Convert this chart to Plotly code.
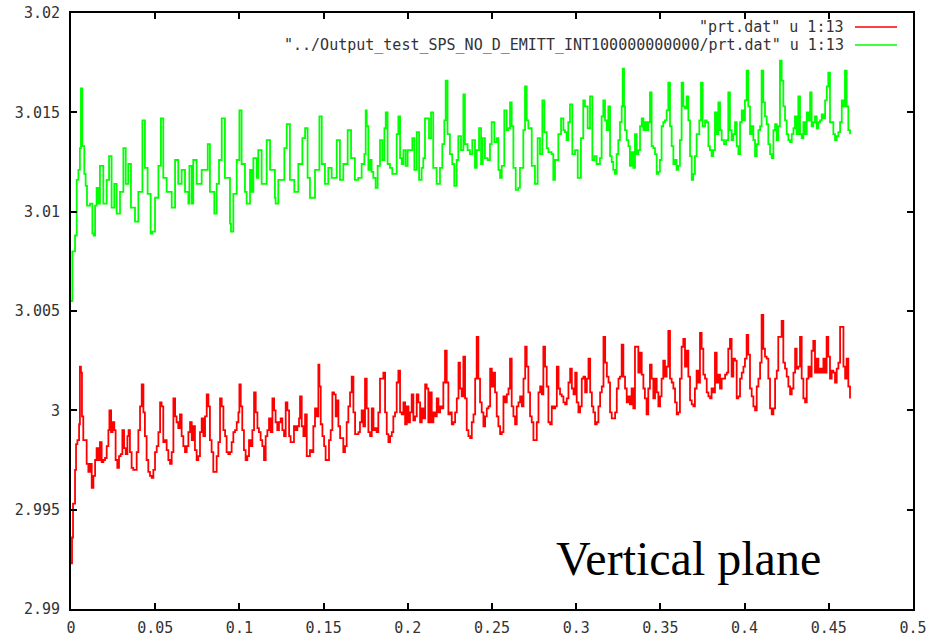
import plotly.graph_objects as go

# ---- tick marks and labels -------------------------------------------------
x_ticks = [0, 0.05, 0.1, 0.15, 0.2, 0.25, 0.3, 0.35, 0.4, 0.45, 0.5]
x_tick_text = ["0", "0.05", "0.1", "0.15", "0.2", "0.25", "0.3", "0.35", "0.4", "0.45", "0.5"]
y_ticks = [2.99, 2.995, 3.0, 3.005, 3.01, 3.015, 3.02]
y_tick_text = ["2.99", "2.995", "3", "3.005", "3.01", "3.015", "3.02"]

series_names = [
    '"prt.dat" u 1:13',
    '"../Output_test_SPS_NO_D_EMITT_INT100000000000/prt.dat" u 1:13',
]
series_colors = ["#ff0000", "#00ff00"]
caption = "Vertical plane"

# ---- prt.dat, column 1 vs column 13 ----------------------------------------
t_red = [
    0.0000, 0.0006, 0.0012, 0.0024, 0.0030, 0.0038, 0.0048, 0.0053, 0.0059, 0.0065,
    0.0073, 0.0083, 0.0093, 0.0103, 0.0113, 0.0123, 0.0133, 0.0143, 0.0152, 0.0162,
    0.0172, 0.0182, 0.0192, 0.0202, 0.0212, 0.0222, 0.0228, 0.0238, 0.0247, 0.0257,
    0.0265, 0.0275, 0.0285, 0.0295, 0.0305, 0.0315, 0.0325, 0.0335, 0.0342, 0.0350,
    0.0360, 0.0370, 0.0380, 0.0390, 0.0400, 0.0410, 0.0420, 0.0430, 0.0439, 0.0449,
    0.0459, 0.0469, 0.0479, 0.0489, 0.0499, 0.0509, 0.0519, 0.0529, 0.0538, 0.0548,
    0.0558, 0.0568, 0.0578, 0.0588, 0.0598, 0.0608, 0.0618, 0.0627, 0.0637, 0.0647,
    0.0657, 0.0667, 0.0677, 0.0687, 0.0697, 0.0707, 0.0717, 0.0726, 0.0736, 0.0746,
    0.0756, 0.0766, 0.0776, 0.0786, 0.0796, 0.0806, 0.0816, 0.0825, 0.0835, 0.0845,
    0.0855, 0.0865, 0.0875, 0.0885, 0.0895, 0.0905, 0.0915, 0.0924, 0.0934, 0.0944,
    0.0954, 0.0964, 0.0974, 0.0984, 0.0994, 0.1000, 0.1008, 0.1017, 0.1027, 0.1037,
    0.1047, 0.1057, 0.1067, 0.1077, 0.1087, 0.1097, 0.1107, 0.1116, 0.1126, 0.1136,
    0.1146, 0.1156, 0.1166, 0.1176, 0.1186, 0.1196, 0.1206, 0.1215, 0.1225, 0.1235,
    0.1245, 0.1255, 0.1265, 0.1275, 0.1285, 0.1295, 0.1304, 0.1314, 0.1324, 0.1334,
    0.1344, 0.1354,
    0.1360, 0.1370, 0.1380, 0.1390, 0.1400, 0.1410, 0.1419, 0.1429, 0.1439, 0.1449,
    0.1459, 0.1469, 0.1475, 0.1483, 0.1493, 0.1503, 0.1512, 0.1522, 0.1532, 0.1542,
    0.1552, 0.1562, 0.1572, 0.1578, 0.1588, 0.1598, 0.1608, 0.1617, 0.1627, 0.1637,
    0.1647, 0.1657, 0.1667, 0.1677, 0.1687, 0.1697, 0.1707, 0.1716, 0.1726, 0.1736,
    0.1746, 0.1756, 0.1766, 0.1776, 0.1786, 0.1796, 0.1806, 0.1815, 0.1825, 0.1835,
    0.1845, 0.1855, 0.1865, 0.1875, 0.1885, 0.1895, 0.1905, 0.1914, 0.1924, 0.1934,
    0.1944, 0.1954, 0.1964, 0.1974, 0.1984, 0.1994, 0.2004, 0.2013, 0.2023, 0.2033,
    0.2043, 0.2053, 0.2063, 0.2073, 0.2083, 0.2093, 0.2103, 0.2112, 0.2122, 0.2132,
    0.2142, 0.2152, 0.2162, 0.2172, 0.2182, 0.2192, 0.2202, 0.2211, 0.2221, 0.2231,
    0.2241, 0.2251, 0.2261, 0.2271, 0.2281, 0.2291, 0.2301, 0.2310, 0.2320, 0.2330,
    0.2340, 0.2350, 0.2360, 0.2370, 0.2380, 0.2390, 0.2400, 0.2409, 0.2419, 0.2429,
    0.2439, 0.2449, 0.2459, 0.2469, 0.2479, 0.2489, 0.2499, 0.2508, 0.2518, 0.2528,
    0.2538, 0.2548, 0.2558, 0.2568, 0.2578, 0.2588, 0.2598, 0.2607, 0.2617, 0.2627,
    0.2637, 0.2647, 0.2657, 0.2667, 0.2677, 0.2687, 0.2697, 0.2706, 0.2716, 0.2726,
    0.2736, 0.2746, 0.2756, 0.2766, 0.2776, 0.2786, 0.2796, 0.2805, 0.2815, 0.2825,
    0.2835, 0.2845, 0.2855, 0.2865, 0.2875, 0.2885, 0.2895, 0.2904, 0.2914, 0.2924,
    0.2934, 0.2944, 0.2954, 0.2964, 0.2974, 0.2984, 0.2994, 0.3003, 0.3013, 0.3023,
    0.3033, 0.3043, 0.3053, 0.3063, 0.3073, 0.3083, 0.3093, 0.3102, 0.3112, 0.3122,
    0.3132, 0.3142, 0.3152, 0.3162, 0.3172, 0.3182, 0.3192, 0.3201, 0.3211, 0.3221,
    0.3231, 0.3241, 0.3251,
    0.3260, 0.3270, 0.3280, 0.3290, 0.3300, 0.3309, 0.3319, 0.3329, 0.3339, 0.3349,
    0.3359, 0.3369, 0.3379, 0.3389, 0.3399, 0.3408, 0.3418, 0.3428, 0.3438, 0.3448,
    0.3458, 0.3468, 0.3478, 0.3488, 0.3498, 0.3507, 0.3517, 0.3527, 0.3537, 0.3547,
    0.3557, 0.3567, 0.3577, 0.3587, 0.3597, 0.3606, 0.3616, 0.3626, 0.3636, 0.3646,
    0.3656, 0.3666, 0.3676, 0.3686, 0.3696, 0.3705, 0.3715, 0.3725, 0.3735, 0.3745,
    0.3755, 0.3765, 0.3775, 0.3785, 0.3795, 0.3804, 0.3814, 0.3824, 0.3834, 0.3844,
    0.3854, 0.3864, 0.3874, 0.3884, 0.3894, 0.3903, 0.3913, 0.3923, 0.3933, 0.3943,
    0.3953, 0.3963, 0.3973, 0.3983, 0.3993, 0.4002, 0.4012, 0.4022, 0.4032, 0.4042,
    0.4052, 0.4062, 0.4072, 0.4082, 0.4092, 0.4101, 0.4111, 0.4121, 0.4131, 0.4141,
    0.4151, 0.4161, 0.4171, 0.4181, 0.4191, 0.4200, 0.4210, 0.4220, 0.4230, 0.4240,
    0.4250, 0.4260, 0.4270, 0.4280, 0.4290, 0.4300, 0.4309, 0.4319, 0.4329, 0.4339,
    0.4349, 0.4359, 0.4369, 0.4379, 0.4389, 0.4398, 0.4408, 0.4418, 0.4428, 0.4438,
    0.4448, 0.4458, 0.4468, 0.4477, 0.4487, 0.4497, 0.4507, 0.4517, 0.4527, 0.4537,
    0.4547, 0.4557, 0.4567, 0.4577, 0.4587, 0.4597, 0.4606, 0.4616, 0.4626,
]
y_red = [
    2.9923, 2.9936, 2.9953, 2.9970, 2.9983, 2.9985, 2.9993, 3.0022, 3.0019, 2.9997,
    2.9985, 2.9985, 2.9973, 2.9969, 2.9973, 2.9961, 2.9967, 2.9975, 2.9981, 2.9975,
    2.9984, 2.9974, 2.9975, 2.9976, 2.9982, 2.9990, 3.0000, 2.9989, 2.9994, 2.9990,
    2.9975, 2.9971, 2.9977, 2.9978, 2.9990, 2.9981, 2.9978, 2.9987, 2.9990, 2.9979,
    2.9971, 2.9970, 2.9970, 2.9979, 2.9990, 3.0002, 3.0013, 2.9999, 2.9987, 2.9975,
    2.9969, 2.9967, 2.9966, 2.9970, 2.9979, 2.9982, 2.9989, 3.0004, 3.0002, 2.9984,
    2.9985, 2.9980, 2.9975, 2.9973, 2.9979, 3.0006, 2.9997, 2.9994, 2.9991, 2.9998,
    2.9987, 2.9982, 2.9979, 2.9982, 2.9989, 2.9994, 2.9985, 2.9992, 2.9980, 2.9975,
    2.9977, 2.9989, 2.9996, 2.9987, 2.9997, 3.0008, 3.0002, 2.9985, 2.9979, 2.9969,
    2.9969, 2.9977, 2.9984, 3.0006, 3.0002, 2.9990, 2.9987, 2.9979, 2.9978, 2.9979,
    2.9984, 2.9989, 2.9990, 2.9994, 2.9999, 3.0013, 3.0002, 2.9990, 2.9980, 2.9975,
    2.9977, 2.9985, 2.9982, 2.9990, 3.0009, 2.9999, 2.9991, 2.9989, 2.9985, 2.9982,
    2.9975, 2.9987, 2.9990, 2.9996, 2.9989, 3.0006, 3.0000, 2.9994, 2.9990, 2.9994,
    2.9996, 2.9990, 2.9987, 3.0004, 3.0000, 2.9987, 2.9984, 2.9984, 2.9992, 2.9990,
    2.9992, 2.9996,
    3.0007, 2.9992, 2.9987, 2.9998, 2.9977, 2.9977, 2.9980, 2.9979, 2.9992, 3.0001,
    2.9997, 3.0023, 3.0012, 2.9993, 2.9987, 2.9982, 2.9975, 2.9975, 2.9985, 2.9990,
    3.0009, 3.0008, 2.9997, 3.0005, 2.9992, 2.9986, 2.9986, 2.9979, 2.9982, 2.9994,
    3.0002, 3.0009, 3.0017, 2.9999, 2.9988, 2.9988, 2.9989, 2.9994, 3.0000, 2.9992,
    3.0016, 3.0001, 2.9989, 2.9987, 3.0001, 2.9990, 2.9991, 2.9989, 2.9999, 3.0016,
    3.0016, 3.0019, 2.9999, 2.9988, 2.9984, 2.9987, 2.9989, 2.9997, 2.9999, 3.0014,
    3.0020, 2.9999, 2.9998, 3.0004, 2.9993, 3.0002, 2.9994, 2.9999, 3.0008, 2.9995,
    2.9997, 3.0008, 3.0004, 2.9994, 3.0001, 2.9996, 3.0013, 3.0011, 2.9994, 3.0009,
    2.9994, 2.9999, 2.9997, 3.0006, 2.9999, 3.0002, 3.0001, 3.0014, 3.0030, 3.0014,
    2.9998, 2.9999, 2.9993, 2.9994, 2.9999, 3.0006, 3.0024, 3.0011, 3.0007, 3.0027,
    3.0006, 2.9990, 2.9987, 2.9986, 2.9994, 2.9998, 3.0016, 3.0037, 3.0016, 3.0004,
    2.9999, 2.9992, 2.9997, 3.0001, 3.0002, 3.0021, 3.0012, 3.0019, 3.0009, 2.9997,
    2.9992, 2.9988, 2.9989, 3.0007, 3.0004, 3.0008, 3.0011, 3.0026, 3.0002, 2.9997,
    2.9993, 3.0002, 3.0004, 3.0007, 3.0002, 3.0016, 3.0032, 3.0022, 3.0009, 2.9997,
    2.9994, 2.9985, 2.9985, 2.9994, 3.0009, 3.0012, 3.0008, 3.0032, 3.0022, 3.0012,
    2.9994, 2.9993, 3.0002, 3.0001, 3.0002, 3.0022, 3.0011, 3.0008, 3.0007, 3.0004,
    3.0003, 3.0006, 3.0014, 3.0021, 3.0011, 3.0008, 3.0019, 3.0004, 2.9999, 3.0002,
    3.0016, 3.0017, 3.0009, 3.0016, 3.0026, 3.0009, 3.0002, 2.9999, 2.9993, 2.9994,
    3.0002, 3.0009, 3.0012, 3.0037, 3.0024, 3.0017, 3.0014, 2.9999, 2.9996, 2.9996,
    2.9999, 3.0011, 3.0016,
    3.0017, 3.0033, 3.0017, 3.0011, 3.0004, 3.0007, 3.0003, 3.0011, 3.0001, 3.0032,
    3.0032, 3.0019, 3.0029, 3.0018, 3.0011, 3.0006, 2.9998, 3.0011, 3.0023, 3.0016,
    3.0006, 3.0016, 3.0009, 3.0002, 3.0007, 3.0016, 3.0025, 3.0017, 3.0022, 3.0040,
    3.0016, 3.0014, 3.0011, 3.0004, 2.9998, 2.9999, 3.0016, 3.0032, 3.0036, 3.0022,
    3.0030, 3.0017, 3.0005, 3.0003, 3.0002, 3.0011, 3.0020, 3.0014, 3.0039, 3.0031,
    3.0018, 3.0016, 3.0009, 3.0007, 3.0006, 3.0011, 3.0009, 3.0029, 3.0014, 3.0018,
    3.0011, 3.0016, 3.0016, 3.0018, 3.0019, 3.0031, 3.0036, 3.0017, 3.0026, 3.0025,
    3.0006, 3.0007, 3.0016, 3.0019, 3.0022, 3.0026, 3.0038, 3.0028, 3.0011, 3.0007,
    3.0002, 3.0000, 3.0012, 3.0016, 3.0024, 3.0048, 3.0031, 3.0027, 3.0026, 3.0016,
    3.0001, 2.9998, 3.0001, 3.0016, 3.0020, 3.0037, 3.0037, 3.0045, 3.0024, 3.0021,
    3.0017, 3.0012, 3.0008, 3.0011, 3.0019, 3.0031, 3.0021, 3.0022, 3.0037, 3.0016,
    3.0006, 3.0004, 3.0016, 3.0022, 3.0017, 3.0030, 3.0035, 3.0019, 3.0026, 3.0019,
    3.0021, 3.0019, 3.0026, 3.0019, 3.0037, 3.0027, 3.0016, 3.0020, 3.0019, 3.0014,
    3.0021, 3.0024, 3.0042, 3.0042, 3.0022, 3.0016, 3.0026, 3.0012, 3.0006,
]

# ---- ../Output_test_SPS_NO_D_EMITT_INT100000000000/prt.dat ------------------
t_green = [
    0.0000, 0.0008, 0.0024, 0.0034, 0.0044, 0.0053, 0.0059, 0.0067, 0.0079, 0.0087,
    0.0095, 0.0113, 0.0127, 0.0135, 0.0143, 0.0152, 0.0162, 0.0172, 0.0192, 0.0212,
    0.0226, 0.0241, 0.0257, 0.0271, 0.0291, 0.0311, 0.0325, 0.0340, 0.0356, 0.0380,
    0.0400, 0.0424, 0.0439, 0.0455, 0.0473, 0.0483, 0.0499, 0.0519, 0.0534, 0.0548,
    0.0568, 0.0598, 0.0618, 0.0637, 0.0657, 0.0677, 0.0697, 0.0703, 0.0717, 0.0726,
    0.0746, 0.0776, 0.0812, 0.0825, 0.0851, 0.0865, 0.0879, 0.0895, 0.0914, 0.0944,
    0.0950, 0.0964, 0.0984, 0.1000, 0.1013, 0.1033, 0.1043, 0.1063, 0.1073, 0.1083,
    0.1103, 0.1112, 0.1132, 0.1162, 0.1182, 0.1211, 0.1215, 0.1231, 0.1267, 0.1281,
    0.1300, 0.1326, 0.1350, 0.1374, 0.1390, 0.1405, 0.1419, 0.1449, 0.1475, 0.1489,
    0.1508, 0.1528, 0.1548, 0.1578, 0.1597, 0.1617, 0.1643, 0.1663, 0.1686, 0.1706,
    0.1726, 0.1742,
    0.1750, 0.1756, 0.1766, 0.1775, 0.1785, 0.1795, 0.1809, 0.1821, 0.1835, 0.1849,
    0.1861, 0.1869, 0.1880, 0.1894, 0.1908, 0.1924, 0.1934, 0.1944, 0.1954, 0.1964,
    0.1974, 0.1987, 0.1999, 0.2013, 0.2027, 0.2039, 0.2053, 0.2067, 0.2082, 0.2092,
    0.2102, 0.2112, 0.2126, 0.2138, 0.2151, 0.2171, 0.2191, 0.2205, 0.2217, 0.2225,
    0.2236, 0.2250, 0.2264, 0.2276, 0.2290, 0.2300, 0.2316, 0.2330, 0.2339, 0.2355,
    0.2369, 0.2383, 0.2399, 0.2409, 0.2423, 0.2435, 0.2445, 0.2458, 0.2474, 0.2488,
    0.2498, 0.2514, 0.2528, 0.2538, 0.2548, 0.2558, 0.2573, 0.2587, 0.2597, 0.2607,
    0.2617, 0.2627, 0.2641, 0.2656, 0.2666, 0.2686, 0.2696, 0.2706, 0.2716, 0.2736,
    0.2755, 0.2771, 0.2785, 0.2799, 0.2811, 0.2825, 0.2835, 0.2854, 0.2864, 0.2874,
    0.2894, 0.2910, 0.2924, 0.2933, 0.2943, 0.2953, 0.2963, 0.2977, 0.2993, 0.3009,
    0.3028, 0.3042, 0.3052, 0.3068, 0.3082, 0.3096, 0.3108, 0.3121, 0.3141,
    0.3151, 0.3161, 0.3171, 0.3181, 0.3191, 0.3201, 0.3211, 0.3220, 0.3230, 0.3240,
    0.3250, 0.3260, 0.3270, 0.3276, 0.3284, 0.3290, 0.3300, 0.3310, 0.3319, 0.3329,
    0.3339, 0.3349, 0.3359, 0.3369, 0.3379, 0.3389, 0.3399, 0.3409, 0.3418, 0.3428,
    0.3438, 0.3448, 0.3458, 0.3468, 0.3478, 0.3488, 0.3497, 0.3507, 0.3517, 0.3527,
    0.3537, 0.3547, 0.3557, 0.3567, 0.3577, 0.3587, 0.3596, 0.3606, 0.3616, 0.3626,
    0.3636, 0.3646, 0.3656, 0.3666, 0.3676, 0.3686, 0.3695, 0.3705, 0.3715, 0.3731,
    0.3741, 0.3751, 0.3765, 0.3775, 0.3785, 0.3794, 0.3804, 0.3814, 0.3824, 0.3834,
    0.3844, 0.3854, 0.3864, 0.3878, 0.3890, 0.3903, 0.3913, 0.3923, 0.3933, 0.3943,
    0.3953, 0.3963, 0.3973, 0.3983, 0.3993, 0.4002, 0.4012, 0.4022, 0.4032, 0.4042,
    0.4052, 0.4062, 0.4072, 0.4082, 0.4092, 0.4101, 0.4111, 0.4121, 0.4131, 0.4141,
    0.4151, 0.4161, 0.4171, 0.4181, 0.4191, 0.4200, 0.4210, 0.4220, 0.4230, 0.4240,
    0.4250, 0.4260, 0.4270, 0.4280, 0.4290, 0.4299, 0.4309, 0.4319, 0.4329, 0.4339,
    0.4349, 0.4359, 0.4369, 0.4379, 0.4389, 0.4398, 0.4408, 0.4418, 0.4428, 0.4438,
    0.4448, 0.4458, 0.4468, 0.4478, 0.4488, 0.4497, 0.4507, 0.4517, 0.4527, 0.4537,
    0.4547, 0.4557, 0.4567, 0.4577, 0.4587, 0.4596, 0.4606, 0.4616, 0.4626,
]
y_green = [
    3.0055, 3.0080, 3.0088, 3.0116, 3.0121, 3.0132, 3.0162, 3.0133, 3.0119, 3.0113,
    3.0103, 3.0104, 3.0089, 3.0088, 3.0103, 3.0112, 3.0104, 3.0123, 3.0104, 3.0116,
    3.0128, 3.0102, 3.0114, 3.0099, 3.0110, 3.0132, 3.0114, 3.0124, 3.0102, 3.0095,
    3.0110, 3.0146, 3.0122, 3.0109, 3.0089, 3.0090, 3.0107, 3.0123, 3.0147, 3.0117,
    3.0110, 3.0102, 3.0126, 3.0114, 3.0121, 3.0110, 3.0104, 3.0123, 3.0104, 3.0126,
    3.0114, 3.0121, 3.0134, 3.0110, 3.0099, 3.0114, 3.0126, 3.0147, 3.0117, 3.0094,
    3.0090, 3.0109, 3.0126, 3.0151, 3.0124, 3.0110, 3.0104, 3.0121, 3.0110, 3.0127,
    3.0117, 3.0131, 3.0114, 3.0136, 3.0121, 3.0107, 3.0104, 3.0116, 3.0132, 3.0144,
    3.0116, 3.0110, 3.0124, 3.0137, 3.0142, 3.0117, 3.0107, 3.0121, 3.0148, 3.0124,
    3.0114, 3.0122, 3.0117, 3.0136, 3.0116, 3.0124, 3.0141, 3.0127, 3.0116, 3.0117,
    3.0124, 3.0129,
    3.0151, 3.0143, 3.0121, 3.0126, 3.0120, 3.0117, 3.0112, 3.0123, 3.0136, 3.0126,
    3.0142, 3.0150, 3.0124, 3.0122, 3.0119, 3.0119, 3.0139, 3.0148, 3.0127, 3.0124,
    3.0131, 3.0123, 3.0131, 3.0131, 3.0137, 3.0121, 3.0140, 3.0116, 3.0122, 3.0127,
    3.0147, 3.0147, 3.0137, 3.0150, 3.0122, 3.0114, 3.0122, 3.0134, 3.0146, 3.0166,
    3.0139, 3.0129, 3.0124, 3.0113, 3.0126, 3.0138, 3.0131, 3.0159, 3.0134, 3.0131,
    3.0129, 3.0136, 3.0122, 3.0131, 3.0142, 3.0124, 3.0137, 3.0127, 3.0126, 3.0134,
    3.0145, 3.0135, 3.0137, 3.0121, 3.0117, 3.0123, 3.0151, 3.0141, 3.0142, 3.0155,
    3.0143, 3.0122, 3.0111, 3.0112, 3.0122, 3.0141, 3.0163, 3.0146, 3.0142, 3.0123,
    3.0114, 3.0137, 3.0129, 3.0156, 3.0140, 3.0132, 3.0130, 3.0129, 3.0116, 3.0126,
    3.0139, 3.0147, 3.0141, 3.0140, 3.0136, 3.0145, 3.0154, 3.0129, 3.0131, 3.0117,
    3.0137, 3.0156, 3.0153, 3.0142, 3.0158, 3.0126, 3.0128, 3.0124, 3.0127,
    3.0148, 3.0156, 3.0146, 3.0141, 3.0153, 3.0128, 3.0125, 3.0121, 3.0119, 3.0129,
    3.0136, 3.0145, 3.0153, 3.0172, 3.0153, 3.0141, 3.0136, 3.0133, 3.0123, 3.0130,
    3.0122, 3.0139, 3.0129, 3.0131, 3.0143, 3.0147, 3.0141, 3.0145, 3.0141, 3.0145,
    3.0160, 3.0133, 3.0132, 3.0129, 3.0119, 3.0120, 3.0126, 3.0143, 3.0145, 3.0146,
    3.0151, 3.0165, 3.0143, 3.0133, 3.0124, 3.0126, 3.0121, 3.0123, 3.0136, 3.0165,
    3.0153, 3.0152, 3.0158, 3.0146, 3.0128, 3.0116, 3.0119, 3.0128, 3.0139, 3.0146,
    3.0165, 3.0143, 3.0146, 3.0145, 3.0133, 3.0131, 3.0128, 3.0131, 3.0150, 3.0139,
    3.0155, 3.0141, 3.0136, 3.0134, 3.0136, 3.0160, 3.0141, 3.0136, 3.0139, 3.0145,
    3.0133, 3.0129, 3.0145, 3.0151, 3.0146, 3.0156, 3.0171, 3.0153, 3.0139, 3.0143,
    3.0136, 3.0128, 3.0134, 3.0141, 3.0143, 3.0171, 3.0155, 3.0148, 3.0144, 3.0134,
    3.0129, 3.0127, 3.0141, 3.0144, 3.0136, 3.0143, 3.0176, 3.0166, 3.0153, 3.0146,
    3.0139, 3.0136, 3.0135, 3.0139, 3.0142, 3.0148, 3.0139, 3.0158, 3.0139, 3.0137,
    3.0145, 3.0139, 3.0150, 3.0146, 3.0160, 3.0143, 3.0145, 3.0148, 3.0142, 3.0145,
    3.0146, 3.0149, 3.0147, 3.0156, 3.0163, 3.0170, 3.0145, 3.0145, 3.0139, 3.0136,
    3.0138, 3.0140, 3.0145, 3.0156, 3.0153, 3.0171, 3.0153, 3.0141, 3.0139,
]

assert len(t_red) == len(y_red)
assert len(t_green) == len(y_green)

MONO = "DejaVu Sans Mono"
TEXT_GREY = "#333333"

fig = go.Figure()
for t, y, name, color in [
    (t_red, y_red, series_names[0], series_colors[0]),
    (t_green, y_green, series_names[1], series_colors[1]),
]:
    fig.add_trace(go.Scatter(
        x=t, y=y, mode="lines", name=name, showlegend=False,
        line=dict(color=color, width=1.8, shape="hv"),
    ))

# gnuplot-style key: right-aligned text with a line sample to its right
key_rows = [0.9765, 0.9463]
for name, color, ky in zip(series_names, series_colors, key_rows):
    fig.add_annotation(
        xref="paper", yref="paper", x=0.9205, y=ky,
        xanchor="right", yanchor="middle", showarrow=False,
        text=name, font=dict(family=MONO, size=15, color=TEXT_GREY),
    )
    fig.add_shape(
        type="line", xref="paper", yref="paper",
        x0=0.9311, x1=0.9810, y0=ky, y1=ky,
        line=dict(color=color, width=1.5),
    )

fig.add_annotation(
    x=0.2870, y=2.99255, xanchor="left", yanchor="middle", showarrow=False,
    text=caption, font=dict(family="Liberation Serif", size=48, color="#000000"),
)

axis_common = dict(
    showgrid=False, zeroline=False, automargin=False,
    showline=True, linecolor="#000000", linewidth=2, mirror="ticks",
    ticks="inside", ticklen=6, tickwidth=2, tickcolor="#000000",
    tickfont=dict(family=MONO, size=15, color=TEXT_GREY),
)
fig.update_xaxes(range=[0, 0.5], tickmode="array", tickvals=x_ticks,
                 ticktext=x_tick_text, ticklabelstandoff=4, **axis_common)
fig.update_yaxes(range=[2.99, 3.02], tickmode="array", tickvals=y_ticks,
                 ticktext=y_tick_text, ticklabelstandoff=6, **axis_common)

fig.update_layout(
    width=943, height=637,
    margin=dict(l=71, r=30, t=13, b=28),
    plot_bgcolor="#ffffff", paper_bgcolor="#ffffff",
)

fig.write_html("out.html")
